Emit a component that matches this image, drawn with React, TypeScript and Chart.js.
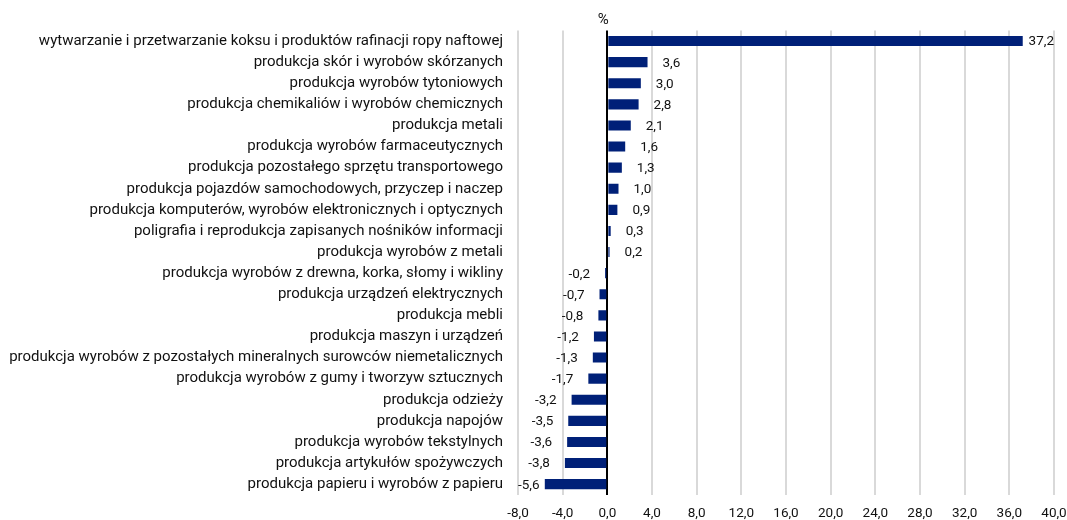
import React, { useEffect, useRef } from "react";
import { Chart, registerables } from "chart.js";

Chart.register(...registerables);

const categories: string[] = [
  "wytwarzanie i przetwarzanie koksu i produktów rafinacji ropy naftowej",
  "produkcja skór i wyrobów skórzanych",
  "produkcja wyrobów tytoniowych",
  "produkcja chemikaliów i wyrobów chemicznych",
  "produkcja metali",
  "produkcja wyrobów farmaceutycznych",
  "produkcja pozostałego sprzętu transportowego",
  "produkcja pojazdów samochodowych, przyczep i naczep",
  "produkcja komputerów, wyrobów elektronicznych i optycznych",
  "poligrafia i reprodukcja zapisanych nośników informacji",
  "produkcja wyrobów z metali",
  "produkcja wyrobów z drewna, korka, słomy i wikliny",
  "produkcja urządzeń elektrycznych",
  "produkcja mebli",
  "produkcja maszyn i urządzeń",
  "produkcja wyrobów z pozostałych mineralnych surowców niemetalicznych",
  "produkcja wyrobów z gumy i tworzyw sztucznych",
  "produkcja odzieży",
  "produkcja napojów",
  "produkcja wyrobów tekstylnych",
  "produkcja artykułów spożywczych",
  "produkcja papieru i wyrobów z papieru",
];

const values: number[] = [
  37.2, 3.6, 3.0, 2.8, 2.1, 1.6, 1.3, 1.0, 0.9, 0.3, 0.2,
  -0.2, -0.7, -0.8, -1.2, -1.3, -1.7, -3.2, -3.5, -3.6, -3.8, -5.6,
];

const xMin = -8;
const xMax = 40;
const xStep = 4;
const unitLabel = "%";

const FONT_FAMILY = "Roboto";
const FONT_SIZE = 15;
const NUM_FONT_SIZE = 13.5;
const TEXT_COLOR = "#111111";
const BAR_COLOR = "#002078";

const fmt = (v: number) => v.toFixed(1).replace(".", ",");

const labelsPlugin = {
  id: "valueLabels",
  afterDatasetsDraw(chart: any) {
    const ctx = chart.ctx;
    const area = chart.chartArea;
    const meta = chart.getDatasetMeta(0);
    ctx.save();
    ctx.font = `${NUM_FONT_SIZE}px ${FONT_FAMILY}`;
    ctx.fillStyle = TEXT_COLOR;
    ctx.textBaseline = "middle";
    ctx.textAlign = "left";
    meta.data.forEach((bar: any, i: number) => {
      const v = values[i];
      const text = fmt(v);
      const w = ctx.measureText(text).width;
      let left: number;
      if (v >= 0) {
        left = Math.min(bar.x + 15, area.right - w);
      } else {
        const right = Math.max(bar.x - 15, area.left + w);
        left = right - w;
      }
      ctx.fillText(text, left, bar.y + 1);
    });
    const xs = chart.scales.x;
    ctx.textAlign = "center";
    ctx.font = `${FONT_SIZE}px ${FONT_FAMILY}`;
    ctx.fillText(unitLabel, xs.getPixelForValue(0) - 4, 20);
    ctx.restore();
  },
};

export default function App() {
  const ref = useRef<HTMLCanvasElement | null>(null);
  useEffect(() => {
    if (!ref.current) return;
    const chart = new Chart(ref.current, {
      type: "bar",
      data: {
        labels: categories,
        datasets: [
          {
            data: values,
            backgroundColor: BAR_COLOR,
            borderWidth: 0,
            categoryPercentage: 1,
            barPercentage: 0.48,
          },
        ],
      },
      options: {
        indexAxis: "y",
        responsive: false,
        animation: false,
        layout: { padding: { top: 30.5, right: 13, left: 0, bottom: 0 } },
        plugins: {
          legend: { display: false },
          tooltip: { enabled: false },
        },
        scales: {
          x: {
            min: xMin,
            max: xMax,
            border: { display: false },
            grid: {
              drawTicks: false,
              color: (c: any) => (c.tick && c.tick.value === 0 ? "#000000" : "#d9d9d9"),
              lineWidth: 2,
            },
            ticks: {
              stepSize: xStep,
              padding: 11,
              color: TEXT_COLOR,
              font: { family: FONT_FAMILY, size: NUM_FONT_SIZE },
              callback: (v: any) => fmt(Number(v)),
              maxRotation: 0,
            },
            afterFit: (s: any) => {
              s.height = 25.3;
              s.paddingLeft = 0;
              s.paddingRight = 0;
            },
          },
          y: {
            border: { display: false },
            grid: { display: false, drawTicks: false },
            ticks: {
              padding: 15,
              color: TEXT_COLOR,
              font: { family: FONT_FAMILY, size: FONT_SIZE },
              autoSkip: false,
            },
            afterFit: (s: any) => {
              s.width = 518;
              s.paddingTop = 0;
              s.paddingBottom = 0;
            },
          },
        },
      },
      plugins: [labelsPlugin],
    });
    return () => chart.destroy();
  }, []);
  return (
    <div style={{ position: "fixed", left: 0, top: 0, width: 1067, height: 520, background: "#fff" }}>
      <canvas ref={ref} width={1067} height={520} />
    </div>
  );
}
